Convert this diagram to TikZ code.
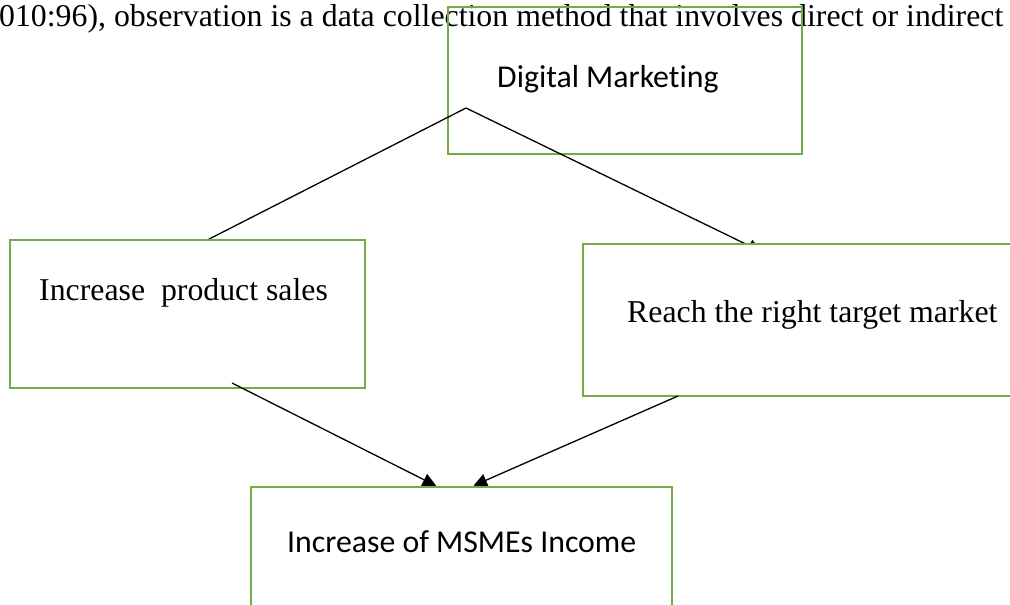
\documentclass[tikz,border=0pt]{standalone}
\usepackage{fontspec}
\setmainfont{Liberation Serif}
\newfontfamily\calfont[Ligatures=NoCommon]{Carlito}
\usetikzlibrary{arrows.meta}
\definecolor{boxgreen}{HTML}{70AD47}
\begin{document}
\begin{tikzpicture}[x=1pt,y=-1pt,
  greenframe/.style={draw=boxgreen, line width=2.8pt, inner sep=0pt, outer sep=0pt, anchor=north west},
  greenbox/.style={greenframe, fill=white},
  conn/.style={draw=black, line width=1.3pt},
  arr/.style={conn, -{Triangle[length=13.5pt,width=13pt]}},
  serifText/.style={font=\fontsize{31.8}{38}\selectfont, anchor=base west, inner sep=0pt},
  calText/.style={font=\calfont\fontsize{31.8}{38}\selectfont, anchor=base west, inner sep=0pt}]
\useasboundingbox (0,0) rectangle (1010,605);
\clip (0,0) rectangle (1010,605);
% background line of the document
\node[serifText] (toptext) at (-1,26) {\makebox[1004pt][s]{010:96), observation is a data collection method that involves direct or indirect}};
% top box
\node[greenframe, minimum width=354pt, minimum height=147pt] (dm) at (448,7) {};
\node[calText] (dmlabel) at (497,87) {Digital Marketing};
% top connectors
\coordinate (apex) at (466,108);
\coordinate (tipTL) at (185.5,251.1);
\coordinate (tipTR) at (761.5,251.7);
\draw[arr] (apex) -- (tipTL);
\draw[arr] (apex) -- (tipTR);
% middle boxes
\node[greenbox, minimum width=355pt, minimum height=148pt] (sales) at (10,240) {};
\node[serifText] (saleslabel) at (39,300) {Increase\ \ product sales};
\node[greenbox, minimum width=442pt, minimum height=152pt] (reach) at (583,244) {};
\node[serifText] (reachlabel) at (627,322) {Reach the right target market};
% bottom connectors
\coordinate (startBL) at (232,383);
\coordinate (tipBL) at (436.2,485.9);
\coordinate (startBR) at (678,396);
\coordinate (tipBR) at (473.5,485.7);
\draw[arr] (startBL) -- (tipBL);
\draw[arr] (startBR) -- (tipBR);
% bottom box
\node[greenbox, minimum width=421pt, minimum height=133pt] (income) at (251,487) {};
\node[calText] (incomelabel) at (287,552) {Increase of MSMEs Income};
\end{tikzpicture}
\end{document}
